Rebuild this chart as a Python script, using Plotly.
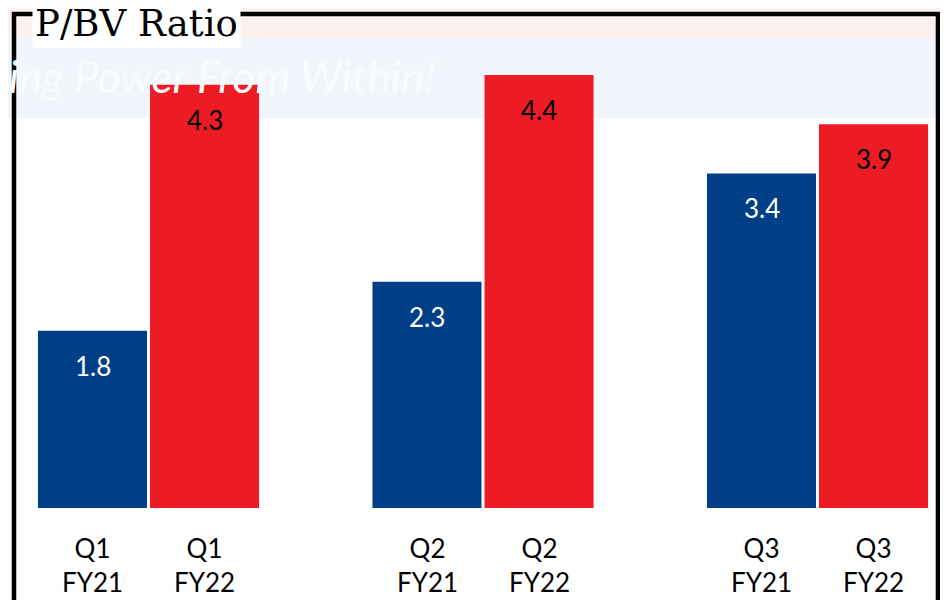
import plotly.graph_objects as go

quarters = ["Q1", "Q2", "Q3"]
years = ["FY21", "FY22"]
pbv_fy21 = [1.8, 2.3, 3.4]
pbv_fy22 = [4.3, 4.4, 3.9]

BLUE = "#003f87"
RED = "#ed1c24"
FONT = "Lato, Carlito, Calibri, sans-serif"

series = [
    (years[0], pbv_fy21, BLUE, "white", -56),
    (years[1], pbv_fy22, RED, "black", 56),
]

fig = go.Figure()
annotations = []
for name, vals, color, txt_color, shift in series:
    fig.add_trace(go.Bar(
        x=quarters, y=vals, name=name,
        marker_color=color, marker_line_width=0,
    ))
    for q, v in zip(quarters, vals):
        # value label inside the bar, near its top
        annotations.append(dict(
            x=q, y=v, xref="x", yref="y", text=f"{v:.1f}", showarrow=False,
            xshift=shift, yshift=-35, yanchor="middle",
            font=dict(family=FONT, size=26, color=txt_color),
        ))
        # per-bar category label under the axis
        annotations.append(dict(
            x=q, y=0, xref="x", yref="paper", text=f"{q}<br>{name}", showarrow=False,
            xshift=shift, yshift=-57, yanchor="middle", borderpad=0,
            font=dict(family=FONT, size=26, color="black"),
        ))

# faded watermark of the slide template
annotations.append(dict(
    x=0.457, y=0.875, xref="paper", yref="paper", xanchor="right", yanchor="middle",
    text="Delivering Power From Within!", showarrow=False,
    font=dict(family=FONT, size=44, color="#f9fbfe", style="italic"),
))

# title sitting on the frame line
annotations.append(dict(
    x=0.0194, y=0.981, xref="paper", yref="paper", xanchor="left", yanchor="middle",
    text="P/BV Ratio", showarrow=False, bgcolor="white", borderpad=2,
    font=dict(family="DejaVu Serif, serif", size=37, color="black"),
))

shapes = [
    dict(type="rect", xref="paper", yref="paper", x0=-0.0065, x1=1.0, y0=0.951, y1=1.013,
         fillcolor="#fdf1f0", line_width=0, layer="below"),
    dict(type="rect", xref="paper", yref="paper", x0=-0.0065, x1=1.0, y0=0.7895, y1=0.951,
         fillcolor="#f1f5fc", line_width=0, layer="below"),
    dict(type="rect", xref="paper", yref="paper", x0=0, x1=0.9978, y0=-0.3, y1=1,
         line=dict(color="black", width=4.5), fillcolor="rgba(0,0,0,0)", layer="above"),
]

# the page body adds an 8px margin all round, so the figure is kept 16px
# smaller than the window to avoid scrollbars
fig.update_layout(
    width=932, height=592,
    margin=dict(l=6, r=0, t=6, b=92),
    paper_bgcolor="white", plot_bgcolor="rgba(0,0,0,0)",
    barmode="group", bargap=0.33, bargroupgap=0.027,
    showlegend=False,
    xaxis=dict(range=[-0.4021, 2.3662], showticklabels=False, showgrid=False,
               zeroline=False, ticks=""),
    yaxis=dict(range=[0, 5.02], visible=False),
    annotations=annotations,
    shapes=shapes,
)

fig.write_html("out.html")
